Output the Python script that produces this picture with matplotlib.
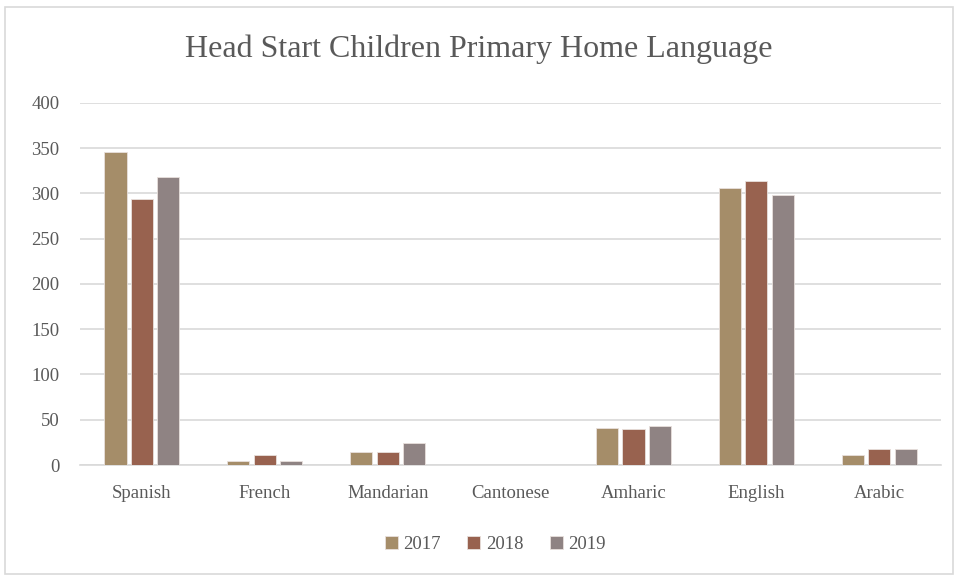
import matplotlib.pyplot as plt
import numpy as np
from matplotlib.patches import Rectangle

# data
languages = ["Spanish", "French", "Mandarian", "Cantonese", "Amharic", "English", "Arabic"]
years = ["2017", "2018", "2019"]
counts_2017 = [346, 5, 14, 0, 41, 306, 11]
counts_2018 = [294, 11, 14, 0, 40, 314, 18]
counts_2019 = [318, 5, 24, 0, 43, 298, 18]
colors = ["#A58D69", "#98624F", "#8F8383"]

plt.rcParams['font.family'] = ['Liberation Serif', 'DejaVu Serif']
text_color = "#595959"

fig = plt.figure(figsize=(9.58, 5.77), dpi=100)
ax = fig.add_axes([0.084, 0.194, 0.898, 0.628])

x = np.arange(len(languages))
width = 0.18
step = 0.215
series = [counts_2017, counts_2018, counts_2019]
for i, (vals, col, yr) in enumerate(zip(series, colors, years)):
    ax.bar(x + (i - 1) * step, vals, width, color=col, label=yr,
           edgecolor="#E8E0DC", linewidth=0.6, zorder=3)

ax.set_xlim(-0.5, len(languages) - 0.5)
ax.set_ylim(0, 400)
ax.set_yticks(range(0, 401, 50))
ax.set_xticks(x)
ax.set_xticklabels(languages)
ax.grid(axis='y', color="#D9D9D9", linewidth=1.2, zorder=0)
for s in ["top", "right", "left"]:
    ax.spines[s].set_visible(False)
ax.spines["bottom"].set_color("#D9D9D9")
ax.spines["bottom"].set_linewidth(1.2)
ax.tick_params(axis='both', length=0, labelsize=13.5, colors=text_color)
ax.tick_params(axis='x', pad=14)
ax.tick_params(axis='y', pad=15)

fig.text(0.5, 0.915, "Head Start Children Primary Home Language", ha='center', va='center',
         fontsize=23, color=text_color)

handles, labels = ax.get_legend_handles_labels()
leg = fig.legend(handles, labels, loc='center', bbox_to_anchor=(0.517, 0.056), ncol=3,
                 frameon=False, fontsize=13.5, handlelength=0.7, handleheight=0.7,
                 handletextpad=0.3, columnspacing=1.4)
for t in leg.get_texts():
    t.set_color(text_color)

# light border around the chart area
fig.patches.append(Rectangle((0.005, 0.005), 0.99, 0.983, transform=fig.transFigure,
                             fill=False, edgecolor="#D9D9D9", linewidth=1.2))

fig.savefig("out.png", dpi=100)
